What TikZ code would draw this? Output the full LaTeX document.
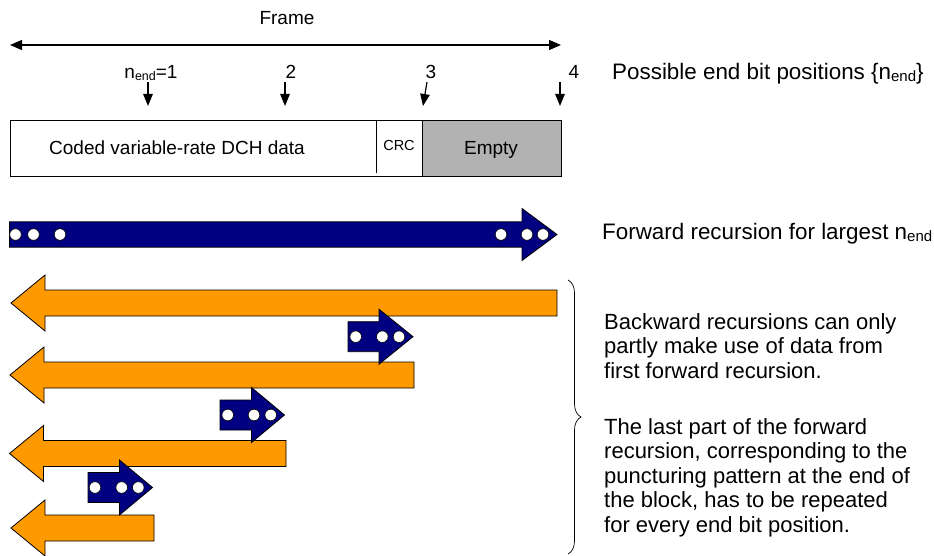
\documentclass[tikz,border=0pt]{standalone}
\usepackage{fontspec}
\setmainfont{Liberation Sans}
\usetikzlibrary{arrows.meta,decorations.pathreplacing}
\definecolor{navyb}{HTML}{000080}
\definecolor{orangeb}{HTML}{FF9900}
\definecolor{grayb}{HTML}{B2B2B2}
% #1 style, #2 left x, #3 tip x, #4 centre y, #5 shaft half, #6 head half, #7 head length
\newcommand{\ArrowR}[7]{\path[#1] (#2,{#4-#5}) -- ({#3-#7},{#4-#5}) -- ({#3-#7},{#4-#6}) -- (#3,#4) -- ({#3-#7},{#4+#6}) -- ({#3-#7},{#4+#5}) -- (#2,{#4+#5}) -- cycle;}
% #1 style, #2 tip x, #3 right x, #4 centre y, #5 shaft half, #6 head half, #7 head length
\newcommand{\ArrowL}[7]{\path[#1] (#3,{#4-#5}) -- ({#2+#7},{#4-#5}) -- ({#2+#7},{#4-#6}) -- (#2,#4) -- ({#2+#7},{#4+#6}) -- ({#2+#7},{#4+#5}) -- (#3,{#4+#5}) -- cycle;}
\newcommand{\Dots}[3]{\foreach \xx in {#1} {\draw[dot] (\xx,#2) circle[radius=#3pt];}}
% small lowered "end" subscript, #1 = font size in pt
\newcommand{\nsubend}[1]{\raisebox{-1.8pt}{\fontsize{#1}{#1}\selectfont end}}
\begin{document}
\begin{tikzpicture}[x=1pt,y=-1pt,
  lbl/.style={font=\fontsize{19}{22}\selectfont, inner sep=0pt, anchor=base},
  small/.style={font=\fontsize{14.5}{17}\selectfont, inner sep=0pt, anchor=base},
  side/.style={font=\fontsize{22.4}{24.5}\selectfont, inner sep=0pt, anchor=base west},
  para/.style={font=\fontsize{22}{24.5}\selectfont, inner sep=0pt, anchor=north west, align=left},
  fwd/.style={fill=navyb, draw=black, line width=0.8pt},
  bwd/.style={fill=orangeb, draw=black, line width=0.8pt},
  dot/.style={fill=white, draw=black, line width=0.6pt},
  downarrow/.style={line width=1.2pt, -{Triangle[length=12pt,width=9.5pt]}},
  framearrow/.style={line width=1.2pt, {Triangle[length=12pt,width=10pt]}-{Triangle[length=12pt,width=10pt]}},
]
\useasboundingbox (0,0) rectangle (934,556);

% Frame
\node[lbl] (frame) at (287,25) {Frame};
\coordinate (fl) at (10,45);
\coordinate (fr) at (561,45);
\draw[framearrow] (fl) -- (fr);

% end bit position labels
\node[lbl] (n1) at (151,79) {n\nsubend{12.5}=1};
\node[lbl] (n2) at (291,79) {2};
\node[lbl] (n3) at (431,79) {3};
\node[lbl] (n4) at (574,79) {4};
\coordinate (a1s) at (148,82); \coordinate (a1e) at (148,106);
\coordinate (a2s) at (285,82); \coordinate (a2e) at (285,106);
\coordinate (a3s) at (427,82); \coordinate (a3e) at (423,106);
\coordinate (a4s) at (560,82); \coordinate (a4e) at (560,106);
\draw[downarrow] (a1s) -- (a1e);
\draw[downarrow] (a2s) -- (a2e);
\draw[downarrow] (a3s) -- (a3e);
\draw[downarrow] (a4s) -- (a4e);

% frame box
\draw[line width=0.9pt, fill=white] (10,120) rectangle (422,176);
\draw[line width=0.9pt, fill=grayb] (422,120) rectangle (561,176);
\draw[line width=0.9pt] (376,120) -- (376,173);
\node[lbl] (data) at (177,155) {Coded variable-rate DCH data};
\node[small] (crc) at (399,151) {CRC};
\node[lbl] (empty) at (491,155) {Empty};

% forward recursion arrow
\ArrowR{fwd}{9.5}{557}{234.5}{12.7}{26}{35}
\Dots{15.5,33.5,60,501,527,543}{234.5}{5.8}

% backward recursions
\ArrowL{bwd}{11}{557}{303}{13}{28}{34}
\ArrowL{bwd}{10}{414}{375}{13}{28}{34}
\ArrowL{bwd}{9.5}{286}{453.5}{13}{28}{34}
\ArrowL{bwd}{11}{154}{528}{13}{28}{34}

% repeated forward parts
\ArrowR{fwd}{348}{413}{336.7}{15}{27.5}{34}
\Dots{355.7,382.3,399}{336.7}{5.8}
\ArrowR{fwd}{220}{284.5}{415}{15}{27.5}{33}
\Dots{227.7,254,270.7}{415}{5.8}
\ArrowR{fwd}{88}{152.5}{487.5}{15}{27.5}{33}
\Dots{95,121.7,138.3}{487.5}{5.8}

% brace
\coordinate (bt) at (568,280);
\coordinate (bb) at (568,554);
\draw[decorate, decoration={brace, amplitude=13pt}, line width=0.7pt] (bt) -- (bb);

% right-hand texts
\node[side] (possible) at (612,80) {Possible end bit positions \{n\nsubend{15}\}};
\node[side] (forward) at (602,240) {Forward recursion for largest n\nsubend{15}};
\node[para] (p1) at (604,313) {Backward recursions can only\\partly make use of data from\\first forward recursion.};
\node[para] (p2) at (604,418) {The last part of the forward\\recursion, corresponding to the\\puncturing pattern at the end of\\the block, has to be repeated\\for every end bit position.};
\end{tikzpicture}
\end{document}
